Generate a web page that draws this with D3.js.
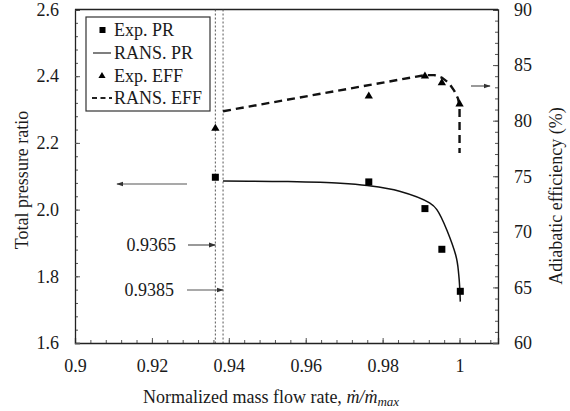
<!DOCTYPE html>
<html>
<head>
<meta charset="utf-8">
<script src="https://cdn.jsdelivr.net/npm/d3@7"></script>
<style>
  body { margin: 0; background: #fff; }
  svg text { font-family: "Liberation Serif", serif; fill: #1a1a1a; }
</style>
</head>
<body>
<div id="chart"></div>
<script>
// Experimental points
var expPrFlow = [0.9365, 0.9764, 0.991, 0.9954, 1.0002];
var expPrValue = [2.097, 2.083, 2.003, 1.881, 1.755];
var expEffFlow = [0.9365, 0.9764, 0.991, 0.9954, 1.0];
var expEffValue = [79.3, 82.2, 84.0, 83.4, 81.5];

// RANS curves
var ransPrFlow = [0.9385, 0.955, 0.969, 0.976, 0.9844, 0.9922, 0.9941, 0.999, 0.9998, 1.0002];
var ransPrValue = [2.086, 2.084, 2.079, 2.072, 2.055, 2.02, 2.0, 1.864, 1.804, 1.724];
var ransEffFlow = [0.9385, 0.991, 0.9935, 0.9955, 0.9972, 0.9986, 0.9996, 1.0, 1.0];
var ransEffValue = [80.85, 84.1, 84.1, 83.85, 83.4, 82.7, 82.0, 81.3, 77.1];

// Axis ticks
var xTicks = [0.9, 0.92, 0.94, 0.96, 0.98, 1.0];
var prTicks = [1.6, 1.8, 2.0, 2.2, 2.4, 2.6];
var effTicks = [60, 65, 70, 75, 80, 85, 90];

var legendItems = ["Exp. PR", "RANS. PR", "Exp. EFF", "RANS. EFF"];

var W = 570, H = 411;
var FONT = "'Liberation Serif', serif";
var svg = d3.select("#chart").append("svg")
    .attr("width", W).attr("height", H)
    .attr("font-family", FONT);

var x = d3.scaleLinear().domain([0.9, 1.01]).range([75, 498]);
var yL = d3.scaleLinear().domain([1.6, 2.6]).range([343, 9.5]);
var yR = d3.scaleLinear().domain([60, 90]).range([343, 9.5]);

// arrow marker
svg.append("defs").append("marker")
    .attr("id", "arr")
    .attr("viewBox", "0 0 10 10")
    .attr("refX", 9).attr("refY", 5)
    .attr("markerWidth", 6).attr("markerHeight", 6)
    .attr("orient", "auto")
  .append("path")
    .attr("d", "M0,1.5 L10,5 L0,8.5 z")
    .attr("fill", "#333");

// minor ticks
function minorRange(a, b, s) {
    var out = [];
    for (var i = 0; a + i * s <= b + 1e-9; i++) out.push(+(a + i * s).toFixed(4));
    return out;
}
svg.append("g").attr("transform", "translate(0,343)")
    .call(d3.axisBottom(x).tickValues(minorRange(0.9, 1.008, 0.004)).tickSize(-3).tickFormat(""))
    .call(g => g.select(".domain").remove())
    .call(g => g.selectAll("line").attr("stroke", "#555"));
svg.append("g").attr("transform", "translate(75,0)")
    .call(d3.axisLeft(yL).tickValues(minorRange(1.6, 2.6, 0.04)).tickSize(-3).tickFormat(""))
    .call(g => g.select(".domain").remove())
    .call(g => g.selectAll("line").attr("stroke", "#555"));
svg.append("g").attr("transform", "translate(498,0)")
    .call(d3.axisRight(yR).tickValues(minorRange(60, 90, 1)).tickSize(-3).tickFormat(""))
    .call(g => g.select(".domain").remove())
    .call(g => g.selectAll("line").attr("stroke", "#555"));

// main axes
var xAxis = svg.append("g").attr("transform", "translate(0,343)")
    .call(d3.axisBottom(x).tickValues(xTicks).tickSize(-5).tickPadding(16)
        .tickFormat(d => d === 1 ? "1" : String(d)));
var lAxis = svg.append("g").attr("transform", "translate(75,0)")
    .call(d3.axisLeft(yL).tickValues(prTicks).tickSize(-5).tickPadding(16).tickFormat(d3.format(".1f")));
var rAxis = svg.append("g").attr("transform", "translate(498,0)")
    .call(d3.axisRight(yR).tickValues(effTicks).tickSize(-5).tickPadding(16));
[xAxis, lAxis, rAxis].forEach(function(g) {
    g.attr("font-family", FONT).attr("font-size", 18);
    g.select(".domain").attr("stroke", "#222").attr("stroke-width", 1.3);
    g.selectAll(".tick line").attr("stroke", "#555");
});
// top border
svg.append("line").attr("x1", 75).attr("x2", 498).attr("y1", yL(2.6)).attr("y2", yL(2.6))
    .attr("stroke", "#222").attr("stroke-width", 1.3);

// vertical dotted lines
[0.9365, 0.9385].forEach(function(v) {
    svg.append("line")
        .attr("x1", x(v)).attr("x2", x(v))
        .attr("y1", yL(2.6)).attr("y2", 343)
        .attr("stroke", "#444").attr("stroke-width", 0.9)
        .attr("stroke-dasharray", "2,2");
});

// RANS PR line
svg.append("path").datum(ransPrValue)
    .attr("d", d3.line().x((d, i) => x(ransPrFlow[i])).y(d => yL(d)).curve(d3.curveCatmullRom.alpha(0.5)))
    .attr("fill", "none").attr("stroke", "#111").attr("stroke-width", 1.5);

// RANS EFF dashed
svg.append("path").datum(ransEffValue)
    .attr("d", d3.line().x((d, i) => x(ransEffFlow[i])).y(d => yR(d)))
    .attr("fill", "none").attr("stroke", "#111").attr("stroke-width", 2.4)
    .attr("stroke-linejoin", "round")
    .attr("stroke-dasharray", "8,5");

// Exp PR squares
svg.append("g").selectAll("rect").data(expPrValue).enter().append("rect")
    .attr("x", (d, i) => x(expPrFlow[i]) - 3.5)
    .attr("y", d => yL(d) - 3.5)
    .attr("width", 7).attr("height", 7).attr("fill", "#000");

// Exp EFF triangles
var tri = d3.symbol().type(d3.symbolTriangle).size(30);
svg.append("g").selectAll("path").data(expEffValue).enter().append("path")
    .attr("d", tri)
    .attr("transform", (d, i) => "translate(" + x(expEffFlow[i]) + "," + yR(d) + ")")
    .attr("fill", "#000");

// annotations
function arrow(x1, x2, y) {
    svg.append("line").attr("x1", x1).attr("x2", x2).attr("y1", y).attr("y2", y)
        .attr("stroke", "#555").attr("stroke-width", 1.2).attr("marker-end", "url(#arr)");
}
arrow(187, 117, 184);
arrow(188, x(0.9365), 245);
arrow(187, x(0.9385), 290);
arrow(471, 490, 86);
svg.append("text").attr("x", 176).attr("y", 245).attr("dy", "0.35em")
    .attr("text-anchor", "end").attr("font-size", 18).text("0.9365");
svg.append("text").attr("x", 174).attr("y", 290).attr("dy", "0.35em")
    .attr("text-anchor", "end").attr("font-size", 18).text("0.9385");

// legend
var lg = svg.append("g");
lg.append("rect").attr("x", 86).attr("y", 17).attr("width", 124).attr("height", 94)
    .attr("fill", "#fff").attr("stroke", "#333").attr("stroke-width", 1.2);
var rowY = [30, 53, 76, 98];
legendItems.forEach(function(name, i) {
    lg.append("text").attr("x", 114).attr("y", rowY[i]).attr("dy", "0.35em")
        .attr("font-size", 18).text(name);
});
lg.append("rect").attr("x", 99.5).attr("y", rowY[0] - 3).attr("width", 6).attr("height", 6).attr("fill", "#000");
lg.append("line").attr("x1", 93).attr("x2", 111).attr("y1", rowY[1]).attr("y2", rowY[1])
    .attr("stroke", "#555").attr("stroke-width", 1.5);
lg.append("path").attr("d", d3.symbol().type(d3.symbolTriangle).size(22))
    .attr("transform", "translate(102," + rowY[2] + ")").attr("fill", "#000");
lg.append("line").attr("x1", 92).attr("x2", 112).attr("y1", rowY[3]).attr("y2", rowY[3])
    .attr("stroke", "#222").attr("stroke-width", 1.8).attr("stroke-dasharray", "5,3.5");

// axis titles
var xt = svg.append("text").attr("x", 271).attr("y", 403)
    .attr("text-anchor", "middle").attr("font-size", 18);
xt.append("tspan").text("Normalized mass flow rate, ");
xt.append("tspan").style("font-style", "italic").text("\u1E41/\u1E41");
xt.append("tspan").style("font-style", "italic").attr("font-size", 13).attr("dy", 3).text("max");

svg.append("text")
    .attr("transform", "translate(28,180) rotate(-90)")
    .attr("text-anchor", "middle").attr("font-size", 18).text("Total pressure ratio");
svg.append("text")
    .attr("transform", "translate(562,196) rotate(-90)")
    .attr("text-anchor", "middle").attr("font-size", 18).text("Adiabatic efficiency (%)");
</script>
</body>
</html>
